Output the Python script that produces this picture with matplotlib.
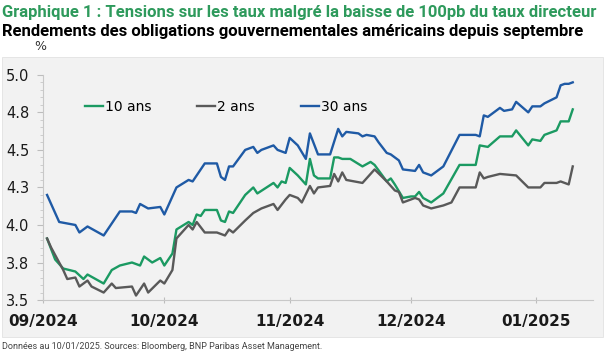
import matplotlib
matplotlib.use('Agg')
import matplotlib.pyplot as plt
import matplotlib.dates as mdates
from matplotlib.patches import Rectangle
from matplotlib.ticker import FixedLocator, MultipleLocator
import pandas as pd

# Rendements US (%).
dates_10 = ['2024-09-02', '2024-09-04', '2024-09-06', '2024-09-09', '2024-09-11', '2024-09-12',
            '2024-09-16', '2024-09-18', '2024-09-20', '2024-09-23', '2024-09-25', '2024-09-26',
            '2024-09-28', '2024-09-30', '2024-10-01', '2024-10-03', '2024-10-04', '2024-10-07',
            '2024-10-08', '2024-10-09', '2024-10-10', '2024-10-11', '2024-10-14', '2024-10-15',
            '2024-10-16', '2024-10-17', '2024-10-18', '2024-10-21', '2024-10-23', '2024-10-24',
            '2024-10-28', '2024-10-29', '2024-10-30', '2024-10-31', '2024-11-01', '2024-11-03',
            '2024-11-05', '2024-11-06', '2024-11-07', '2024-11-08', '2024-11-11', '2024-11-12',
            '2024-11-13', '2024-11-14', '2024-11-16', '2024-11-19', '2024-11-21', '2024-11-22',
            '2024-11-25', '2024-11-26', '2024-11-27', '2024-11-29', '2024-12-01', '2024-12-02',
            '2024-12-03', '2024-12-04', '2024-12-06', '2024-12-09', '2024-12-13', '2024-12-17',
            '2024-12-18', '2024-12-20', '2024-12-23', '2024-12-26', '2024-12-27', '2024-12-30',
            '2024-12-31', '2025-01-02', '2025-01-03', '2025-01-06', '2025-01-07', '2025-01-09',
            '2025-01-10']
us_10y = [3.91, 3.77, 3.71, 3.69, 3.64, 3.67,
          3.61, 3.70, 3.73, 3.75, 3.73, 3.79,
          3.75, 3.78, 3.73, 3.81, 3.97, 4.02,
          4.00, 4.07, 4.06, 4.10, 4.10, 4.03,
          4.02, 4.09, 4.08, 4.20, 4.25, 4.21,
          4.28, 4.25, 4.29, 4.28, 4.38, 4.33,
          4.27, 4.44, 4.33, 4.31, 4.31, 4.45,
          4.45, 4.44, 4.44, 4.39, 4.42, 4.40,
          4.29, 4.31, 4.27, 4.18, 4.19, 4.19,
          4.22, 4.18, 4.15, 4.21, 4.40, 4.40,
          4.53, 4.52, 4.59, 4.59, 4.63, 4.53,
          4.57, 4.56, 4.60, 4.63, 4.69, 4.69,
          4.77]

dates_2 = ['2024-09-02', '2024-09-03', '2024-09-05', '2024-09-06', '2024-09-07', '2024-09-09',
           '2024-09-10', '2024-09-12', '2024-09-13', '2024-09-16', '2024-09-18', '2024-09-19',
           '2024-09-23', '2024-09-24', '2024-09-26', '2024-09-27', '2024-09-30', '2024-10-01',
           '2024-10-03', '2024-10-04', '2024-10-07', '2024-10-08', '2024-10-09', '2024-10-11',
           '2024-10-14', '2024-10-16', '2024-10-17', '2024-10-18', '2024-10-21', '2024-10-23',
           '2024-10-25', '2024-10-28', '2024-10-29', '2024-10-31', '2024-11-01', '2024-11-03',
           '2024-11-04', '2024-11-06', '2024-11-07', '2024-11-08', '2024-11-11', '2024-11-12',
           '2024-11-13', '2024-11-14', '2024-11-15', '2024-11-19', '2024-11-22', '2024-11-25',
           '2024-11-27', '2024-11-28', '2024-11-29', '2024-12-02', '2024-12-03', '2024-12-04',
           '2024-12-06', '2024-12-09', '2024-12-11', '2024-12-13', '2024-12-17', '2024-12-18',
           '2024-12-19', '2024-12-20', '2024-12-23', '2024-12-27', '2024-12-30', '2025-01-02',
           '2025-01-03', '2025-01-06', '2025-01-07', '2025-01-09', '2025-01-10']
us_2y = [3.91, 3.85, 3.75, 3.70, 3.64, 3.65,
         3.59, 3.63, 3.59, 3.55, 3.61, 3.58,
         3.59, 3.53, 3.61, 3.55, 3.63, 3.61,
         3.70, 3.91, 4.00, 3.97, 4.02, 3.95,
         3.95, 3.93, 3.97, 3.95, 4.03, 4.08,
         4.11, 4.14, 4.10, 4.17, 4.20, 4.18,
         4.15, 4.26, 4.21, 4.25, 4.26, 4.34,
         4.29, 4.35, 4.30, 4.28, 4.37, 4.29,
         4.23, 4.22, 4.15, 4.18, 4.17, 4.13,
         4.11, 4.13, 4.15, 4.25, 4.25, 4.35,
         4.31, 4.32, 4.34, 4.33, 4.25, 4.25,
         4.28, 4.28, 4.29, 4.27, 4.39]

dates_30 = ['2024-09-02', '2024-09-05', '2024-09-09', '2024-09-10', '2024-09-12', '2024-09-16',
            '2024-09-18', '2024-09-20', '2024-09-23', '2024-09-24', '2024-09-25', '2024-09-27',
            '2024-09-30', '2024-10-01', '2024-10-04', '2024-10-07', '2024-10-08', '2024-10-09',
            '2024-10-11', '2024-10-14', '2024-10-15', '2024-10-16', '2024-10-17', '2024-10-18',
            '2024-10-21', '2024-10-23', '2024-10-24', '2024-10-25', '2024-10-28', '2024-10-29',
            '2024-10-31', '2024-11-01', '2024-11-03', '2024-11-05', '2024-11-06', '2024-11-08',
            '2024-11-11', '2024-11-13', '2024-11-14', '2024-11-15', '2024-11-18', '2024-11-19',
            '2024-11-20', '2024-11-22', '2024-11-23', '2024-11-25', '2024-11-26', '2024-11-28',
            '2024-11-29', '2024-12-02', '2024-12-03', '2024-12-04', '2024-12-06', '2024-12-07',
            '2024-12-09', '2024-12-13', '2024-12-17', '2024-12-18', '2024-12-19', '2024-12-20',
            '2024-12-23', '2024-12-24', '2024-12-26', '2024-12-27', '2024-12-30', '2024-12-31',
            '2025-01-02', '2025-01-03', '2025-01-06', '2025-01-07', '2025-01-08', '2025-01-09',
            '2025-01-10']
us_30y = [4.20, 4.02, 4.00, 3.95, 3.99, 3.93,
          4.01, 4.09, 4.09, 4.08, 4.14, 4.11,
          4.12, 4.07, 4.25, 4.30, 4.29, 4.33,
          4.41, 4.41, 4.32, 4.30, 4.39, 4.39,
          4.50, 4.52, 4.48, 4.50, 4.53, 4.50,
          4.48, 4.58, 4.53, 4.44, 4.61, 4.47,
          4.47, 4.64, 4.59, 4.62, 4.61, 4.59,
          4.60, 4.59, 4.55, 4.48, 4.47, 4.43,
          4.37, 4.36, 4.40, 4.35, 4.33, 4.35,
          4.39, 4.60, 4.60, 4.59, 4.73, 4.72,
          4.78, 4.76, 4.77, 4.82, 4.75, 4.79,
          4.79, 4.81, 4.85, 4.93, 4.94, 4.94,
          4.95]

y_ticks = [3.5, 3.75, 4.0, 4.25, 4.5, 4.75, 5.0]
y_tick_labels = ['3.5', '3.8', '4.0', '4.3', '4.5', '4.8', '5.0']
x_ticks = ['2024-09-01', '2024-10-01', '2024-11-01', '2024-12-01', '2025-01-01']

green = '#1b9a62'
grey = '#595959'
blue = '#1f5aa5'
narrow = ['Liberation Sans Narrow', 'Roboto', 'DejaVu Sans']

fig = plt.figure(figsize=(6.05, 3.53), dpi=100)
fig.patch.set_facecolor('white')

# Fond gris du graphique.
fig.patches.append(Rectangle((0.004, 0.045), 0.992, 0.793, transform=fig.transFigure,
                             facecolor='#f2f2f2', edgecolor='#e2e2e2', linewidth=0.6, zorder=-5))

ax = fig.add_axes([0.0711, 0.150, 0.909, 0.638])
ax.set_facecolor('none')
ax.set_zorder(2)

ax.plot(pd.to_datetime(dates_10), us_10y, color=green, linewidth=1.7, label='10 ans')
ax.plot(pd.to_datetime(dates_2), us_2y, color=grey, linewidth=1.7, label='2 ans')
ax.plot(pd.to_datetime(dates_30), us_30y, color=blue, linewidth=1.7, label='30 ans')

ax.set_ylim(3.5, 5.0)
ax.set_xlim(pd.Timestamp('2024-09-01'), pd.Timestamp('2025-01-15'))

ax.yaxis.set_major_locator(FixedLocator(y_ticks))
ax.set_yticklabels(y_tick_labels)
ax.yaxis.set_minor_locator(MultipleLocator(0.05))
ax.set_xticks(pd.to_datetime(x_ticks))
ax.xaxis.set_major_formatter(mdates.DateFormatter('%m/%Y'))

for s in ['top', 'right']:
    ax.spines[s].set_visible(False)
for s in ['left', 'bottom']:
    ax.spines[s].set_color('#c8c8c8')
    ax.spines[s].set_linewidth(0.8)

ax.tick_params(axis='y', which='major', length=4, color='#bdbdbd', labelsize=10.5,
               labelcolor='#1a1a1a', pad=6)
ax.tick_params(axis='y', which='minor', length=2.5, color='#c8c8c8')
ax.tick_params(axis='x', which='major', length=4, direction='inout', color='#bdbdbd',
               labelsize=11, labelcolor='#1a1a1a', pad=8)
for lab in ax.get_xticklabels():
    lab.set_fontweight('bold')

ax.legend(loc='center left', bbox_to_anchor=(0.076, 0.858), ncol=3, frameon=False,
          fontsize=10, handlelength=1.3, handletextpad=0.15, columnspacing=3.3,
          borderpad=0, borderaxespad=0)

fig.text(0.004, 0.966, 'Graphique 1 : Tensions sur les taux malgré la baisse de 100pb du taux directeur',
         color='#2e9a5c', fontsize=12, fontweight='bold', va='center', ha='left',
         family=narrow)
fig.text(0.004, 0.912, 'Rendements des obligations gouvernementales américains depuis septembre',
         color='black', fontsize=12, fontweight='bold', va='center', ha='left',
         family=narrow)
fig.text(0.056, 0.868, '%', color='#333333', fontsize=9, va='center', ha='left')
fig.text(0.004, 0.018, 'Données au 10/01/2025. Sources: Bloomberg, BNP Paribas Asset Management.',
         color='#444444', fontsize=6.5, va='center', ha='left', family=narrow)

fig.savefig('out.png', dpi=100, facecolor='white')
